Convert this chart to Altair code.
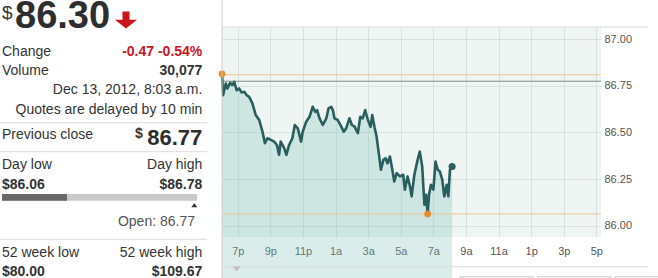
import altair as alt
import pandas as pd

FONT = "Liberation Sans, Arial, Helvetica, sans-serif"

# ---------------- quote panel values ----------------
last_price_text = "86.30"
change_text = "-0.47 -0.54%"
volume_text = "30,077"
timestamp_text = "Dec 13, 2012, 8:03 a.m."
delay_text = "Quotes are delayed by 10 min"
prev_close_text = "86.77"
day_low = 86.06
day_high = 86.78
last_value = 86.30
open_value = 86.77
week52_low_text = "$80.00"
week52_high_text = "$109.67"

# ---------------- intraday series ----------------
times = [
    "2012-12-12T18:02", "2012-12-12T18:06", "2012-12-12T18:16", "2012-12-12T18:22",
    "2012-12-12T18:32", "2012-12-12T18:40", "2012-12-12T18:47", "2012-12-12T18:56",
    "2012-12-12T19:05", "2012-12-12T19:14", "2012-12-12T19:24", "2012-12-12T19:33",
    "2012-12-12T19:42", "2012-12-12T19:54", "2012-12-12T20:06", "2012-12-12T20:19",
    "2012-12-12T20:31", "2012-12-12T20:40", "2012-12-12T20:49", "2012-12-12T21:02",
    "2012-12-12T21:14", "2012-12-12T21:24", "2012-12-12T21:32", "2012-12-12T21:38",
    "2012-12-12T21:51", "2012-12-12T21:59", "2012-12-12T22:09", "2012-12-12T22:21",
    "2012-12-12T22:30", "2012-12-12T22:41", "2012-12-12T22:53", "2012-12-12T22:59",
    "2012-12-12T23:12", "2012-12-12T23:24", "2012-12-12T23:36", "2012-12-12T23:45",
    "2012-12-12T23:52", "2012-12-13T00:01", "2012-12-13T00:13", "2012-12-13T00:26",
    "2012-12-13T00:34", "2012-12-13T00:44", "2012-12-13T00:50", "2012-12-13T00:56",
    "2012-12-13T01:08", "2012-12-13T01:21", "2012-12-13T01:30", "2012-12-13T01:39",
    "2012-12-13T01:51", "2012-12-13T02:00", "2012-12-13T02:10", "2012-12-13T02:22",
    "2012-12-13T02:31", "2012-12-13T02:40", "2012-12-13T02:49", "2012-12-13T02:59",
    "2012-12-13T03:09", "2012-12-13T03:15", "2012-12-13T03:24", "2012-12-13T03:31",
    "2012-12-13T03:39", "2012-12-13T03:47", "2012-12-13T03:56", "2012-12-13T04:04",
    "2012-12-13T04:11", "2012-12-13T04:20", "2012-12-13T04:29", "2012-12-13T04:36",
    "2012-12-13T04:45", "2012-12-13T04:57", "2012-12-13T05:09", "2012-12-13T05:15",
    "2012-12-13T05:25", "2012-12-13T05:34", "2012-12-13T05:40", "2012-12-13T05:50",
    "2012-12-13T06:02", "2012-12-13T06:10", "2012-12-13T06:19", "2012-12-13T06:27",
    "2012-12-13T06:33", "2012-12-13T06:39", "2012-12-13T06:44", "2012-12-13T06:51",
    "2012-12-13T07:00", "2012-12-13T07:08", "2012-12-13T07:16", "2012-12-13T07:24",
    "2012-12-13T07:33", "2012-12-13T07:40", "2012-12-13T07:49", "2012-12-13T07:55",
    "2012-12-13T08:01", "2012-12-13T08:09",
]
prices = [
    86.815, 86.700, 86.763, 86.736, 86.766, 86.754, 86.772, 86.727,
    86.736, 86.715, 86.718, 86.700, 86.691, 86.656, 86.594, 86.567,
    86.504, 86.442, 86.469, 86.460, 86.451, 86.433, 86.380, 86.451,
    86.416, 86.380, 86.433, 86.469, 86.540, 86.522, 86.451, 86.504,
    86.558, 86.584, 86.638, 86.611, 86.620, 86.576, 86.540, 86.576,
    86.629, 86.638, 86.620, 86.576, 86.567, 86.531, 86.504, 86.522,
    86.576, 86.540, 86.531, 86.496, 86.584, 86.576, 86.620, 86.567,
    86.531, 86.594, 86.524, 86.478, 86.389, 86.300, 86.353, 86.362,
    86.335, 86.371, 86.300, 86.237, 86.282, 86.264, 86.273, 86.193,
    86.264, 86.210, 86.157, 86.273, 86.353, 86.397, 86.317, 86.112,
    86.166, 86.063, 86.166, 86.219, 86.193, 86.344, 86.300, 86.290,
    86.246, 86.157, 86.219, 86.157, 86.300, 86.317,
]

# reference levels drawn on the chart
session_high_level = 86.81
prev_close_level = 86.775
session_low_level = 86.063
marker_times = ["2012-12-12T18:02", "2012-12-13T06:39"]
marker_prices = [86.815, 86.063]

x_tick_days_hours = [(12, 19), (12, 21), (12, 23), (13, 1), (13, 3), (13, 5),
                     (13, 7), (13, 9), (13, 11), (13, 13), (13, 15), (13, 17)]
y_ticks = [86.00, 86.25, 86.50, 86.75, 87.00]

# ---------------- chart ----------------
series = pd.DataFrame({"time": times, "price": prices})
last_point = series.tail(1)
markers = pd.DataFrame({"time": marker_times, "price": marker_prices})
one = alt.Data(values=[{"k": 0}])

W, H = 379, 210

x_enc = alt.X(
    "time:T",
    title=None,
    scale=alt.Scale(domain=[
        alt.DateTime(year=2012, month=12, date=12, hours=18, minutes=2),
        alt.DateTime(year=2012, month=12, date=13, hours=17, minutes=17),
    ]),
    axis=alt.Axis(
        values=[alt.DateTime(year=2012, month=12, date=d, hours=h) for d, h in x_tick_days_hours],
        labelExpr="timeFormat(datum.value, '%-I') + (hours(datum.value) < 12 ? 'a' : 'p')",
        domain=False, ticks=False, labelPadding=8, labelFontSize=11,
        labelFont=FONT, labelColor="#555555", gridColor="#d6e1dd",
        labelFlush=False, labelOverlap=False, labelBound=False,
    ),
)
y_enc = alt.Y(
    "price:Q",
    title=None,
    scale=alt.Scale(domain=[85.939, 87.066], nice=False, zero=False),
    axis=alt.Axis(
        orient="right", values=y_ticks, format=".2f",
        domain=False, ticks=False, labelPadding=3, labelFontSize=11,
        labelFont=FONT, labelColor="#555555", gridColor="#d6e1dd",
        labelFlush=False, labelOverlap=False, labelBound=False,
    ),
)

area = alt.Chart(series).mark_area(color="#86c4b9", opacity=0.3).encode(
    x=x_enc, y=y_enc, y2=alt.value(H))
line = alt.Chart(series).mark_line(color="#285e5e", strokeWidth=2.6,
                                   strokeJoin="round").encode(x=x_enc, y=y_enc)
rule_hi = alt.Chart(one).mark_rule(color="#f0c495", strokeWidth=1).encode(
    y=alt.datum(session_high_level))
rule_prev = alt.Chart(one).mark_rule(color="#7d8c8a", strokeWidth=1).encode(
    y=alt.datum(prev_close_level))
rule_lo = alt.Chart(one).mark_rule(color="#f0c495", strokeWidth=1).encode(
    y=alt.datum(session_low_level))
dots = alt.Chart(markers).mark_circle(size=45, color="#e8892b", opacity=1).encode(
    x=x_enc, y=y_enc)
end_dot = alt.Chart(last_point).mark_circle(size=50, color="#285e5e", opacity=1).encode(
    x=x_enc, y=y_enc)


def hline(x1, x2, y, color="#dddddd"):
    return alt.Chart(one).mark_rule(color=color, strokeWidth=1).encode(
        x=alt.value(x1), x2=alt.value(x2), y=alt.value(y))


def txt(s, x, y, align="left", size=14, weight="normal", color="#333333"):
    return alt.Chart(one).mark_text(
        text=s, align=align, baseline="alphabetic", fontSize=size,
        fontWeight=weight, color=color, font=FONT,
    ).encode(x=alt.value(x), y=alt.value(y))


L, R = -220, -19.7
red = "#c8161d"

panel = [
    txt("$", L, -8.5, size=19),
    txt(last_price_text, -207, 1.3, size=38, weight="bold", color="#2e2e2e"),
    alt.Chart(one).mark_point(
        shape="M-0.32,-0.77L0.32,-0.77L0.32,-0.02L1,-0.02L0,0.77L-1,-0.02L-0.32,-0.02Z",
        filled=True, size=484, color=red, opacity=1,
    ).encode(x=alt.value(-96), y=alt.value(-7)),
    txt("Change", L, 28.7),
    txt(change_text, R, 28.7, align="right", weight="bold", color=red),
    txt("Volume", L, 48),
    txt(volume_text, R, 48, align="right", weight="bold"),
    txt(timestamp_text, R, 67.3, align="right"),
    txt(delay_text, R, 87.3, align="right"),
    hline(-222, -15, 95.7),
    txt("Previous close", L, 112.3),
    txt("$", -87, 111, size=14, weight="bold"),
    txt(prev_close_text, R, 118, align="right", size=22, weight="bold", color="#2e2e2e"),
    hline(-222, -15, 124.7),
    txt("Day low", L, 141.5),
    txt("Day high", R, 141.5, align="right"),
    txt(f"${day_low:.2f}", L, 162, weight="bold"),
    txt(f"${day_high:.2f}", R, 162, align="right", weight="bold"),
]

bar_x0, bar_w = -220, 195
fill_end = bar_x0 + (last_value - day_low) / (day_high - day_low) * bar_w
open_pos = bar_x0 + (open_value - day_low) / (day_high - day_low) * bar_w
panel += [
    alt.Chart(one).mark_rect(color="#c9c9c9").encode(
        x=alt.value(bar_x0), x2=alt.value(bar_x0 + bar_w), y=alt.value(167), y2=alt.value(173.7)),
    alt.Chart(one).mark_rect(color="#686868").encode(
        x=alt.value(bar_x0), x2=alt.value(fill_end), y=alt.value(167), y2=alt.value(173.7)),
    alt.Chart(one).mark_point(shape="M-1,0.65L1,0.65L0,-0.65Z", filled=True, size=36,
                              color="#333333", opacity=1).encode(
        x=alt.value(open_pos), y=alt.value(178.3)),
    txt(f"Open: {open_value:.2f}", -27, 199, align="right", color="#555555"),
    hline(-222, -15, 212.3),
    txt("52 week low", L, 229.5),
    txt("52 week high", R, 229.5, align="right"),
    txt(week52_low_text, L, 249, weight="bold"),
    txt(week52_high_text, R, 249, align="right", weight="bold"),
]

frame = [
    alt.Chart(one).mark_rule(color="#cfcfcf", strokeWidth=1).encode(
        x=alt.value(0), y=alt.value(-27), y2=alt.value(251)),
    hline(0, 426, 0, color="#dcdcdc"),
    hline(0, 426, 239.7, color="#dcdcdc"),
    alt.Chart(one).mark_point(shape="M-1,-0.6L1,-0.6L0,0.6Z", filled=True, size=64,
                              color="#c2c2c2", opacity=1).encode(
        x=alt.value(14.7), y=alt.value(242)),
]
for bx0, bx1 in [(238, 311), (316, 389), (393, 440)]:
    frame.append(alt.Chart(one).mark_rect(fill="white", stroke="#cccccc", strokeWidth=1).encode(
        x=alt.value(bx0), x2=alt.value(bx1), y=alt.value(249.7), y2=alt.value(262)))

chart = alt.layer(
    area, rule_hi, rule_prev, rule_lo, line, dots, end_dot, *frame, *panel
).properties(
    width=W, height=H,
    autosize=alt.AutoSizeParams(type="none"),
    padding={"left": 222, "top": 27, "right": 57, "bottom": 41},
    background="white",
).configure_view(fill="#eef5f2", strokeWidth=0)

chart.save("out.html", embed_options={"renderer": "svg", "actions": False})
